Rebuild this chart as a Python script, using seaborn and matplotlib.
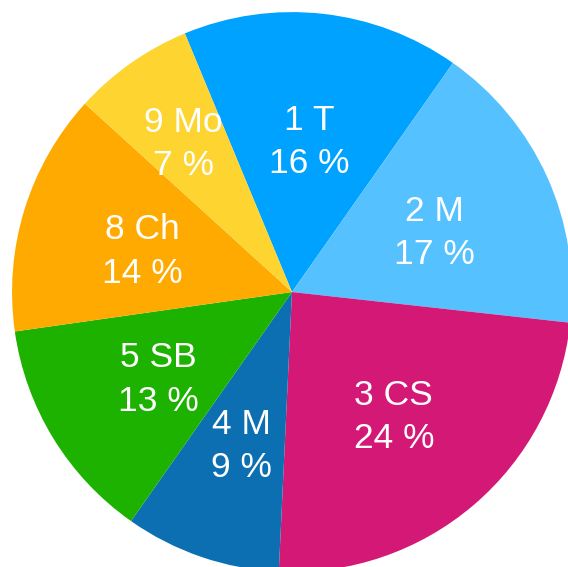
import numpy as np
import pandas as pd
import seaborn as sns
import matplotlib.pyplot as plt

sns.set_theme(style='white')
plt.rcParams['font.family'] = ['Liberation Sans', 'DejaVu Sans']

# Slice data, in drawing order (clockwise from the top-left)
names = ['1 T', '2 M', '3 CS', '4 M', '5 SB', '8 Ch', '9 Mo']
shares = [16, 17, 24, 9, 13, 14, 7]
colors = ['#00A2FF', '#56C1FF', '#D31876', '#0B6FB2', '#1DB100', '#FFAA00', '#FDD430']

df = pd.DataFrame({'name': names, 'share': shares})
df['label'] = df['name'] + '\n' + df['share'].astype(str) + ' %'

fig = plt.figure(figsize=(5.68, 5.67), dpi=100)
ax = fig.add_axes([0, 0, 1, 1])

wedges, texts = ax.pie(df['share'],
                       labels=df['label'],
                       colors=colors,
                       startangle=112.5,
                       counterclock=False,
                       labeldistance=0.56,
                       wedgeprops=dict(linewidth=0, edgecolor='none'),
                       textprops=dict(color='white', fontsize=25.5,
                                      ha='center', va='center',
                                      linespacing=1.4))

# the small yellow slice has its label pushed further out
for t in texts:
    t.set_horizontalalignment('center')
x, y = texts[-1].get_position()
texts[-1].set_position((x * 1.2, y * 1.2))
# labels sit a touch lower than matplotlib's centring
for t in texts:
    x, y = t.get_position()
    t.set_position((x, y - 0.02))

ax.set_aspect('equal')
ax.set_xlim(-1.043, 0.986)
ax.set_ylim(-0.982, 1.043)
ax.axis('off')

fig.savefig('out.png', dpi=100)
